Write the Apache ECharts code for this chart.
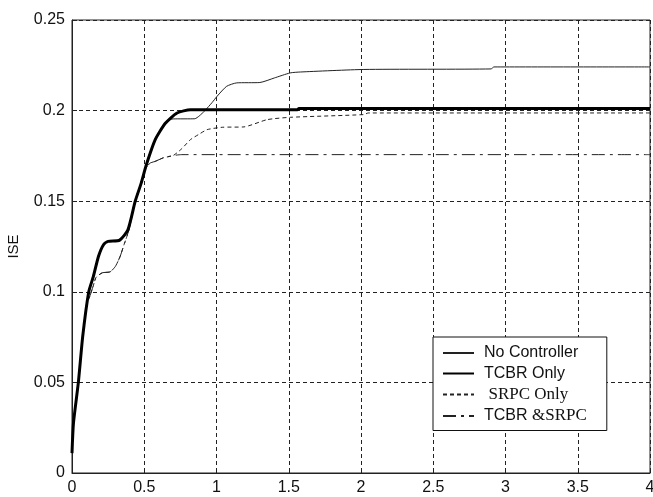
<!DOCTYPE html>
<html>
<head>
<meta charset="utf-8">
<script src="https://cdn.jsdelivr.net/npm/echarts@6/dist/echarts.min.js"></script>
<style>
  html, body { margin: 0; padding: 0; background: #fff; }
  #main { width: 653px; height: 497px; }
</style>
</head>
<body>
<div id="main"></div>
<script>
// time (s) and ISE values
var tNone = [0, 0.01, 0.044, 0.074, 0.116, 0.148, 0.183, 0.218, 0.25, 0.33, 0.387, 0.4375, 0.479, 0.514, 0.576, 0.62, 0.66, 0.70, 0.85, 0.88, 0.92, 0.97, 1.005, 1.07, 1.14, 1.3, 1.4, 1.51, 1.58, 2.02, 2.9, 2.92, 4];
var vNone = [0.011, 0.0274, 0.05, 0.0753, 0.1, 0.1085, 0.1195, 0.126, 0.1278, 0.1285, 0.1342, 0.15, 0.160, 0.170, 0.184, 0.190, 0.1945, 0.1954, 0.1955, 0.197, 0.2, 0.2045, 0.208, 0.2134, 0.2153, 0.2155, 0.218, 0.2208, 0.2213, 0.2227, 0.2230, 0.2241, 0.2241];

var tTcbr = [0, 0.01, 0.044, 0.074, 0.116, 0.148, 0.183, 0.218, 0.25, 0.33, 0.387, 0.4375, 0.479, 0.514, 0.576, 0.646, 0.727, 0.82, 1.56, 1.57, 4];
var vTcbr = [0.011, 0.0274, 0.05, 0.0753, 0.1, 0.1085, 0.1195, 0.126, 0.1278, 0.1285, 0.1342, 0.15, 0.160, 0.170, 0.184, 0.193, 0.1987, 0.2005, 0.2005, 0.2011, 0.2011];

var tSrpc = [0, 0.01, 0.044, 0.074, 0.10, 0.125, 0.146, 0.167, 0.21, 0.264, 0.30, 0.333, 0.36, 0.38, 0.40, 0.4375, 0.479, 0.51, 0.54, 0.576, 0.634, 0.70, 0.76, 0.82, 0.88, 0.935, 1.04, 1.19, 1.35, 1.51, 2.02, 2.05, 4];
var vSrpc = [0.011, 0.0274, 0.05, 0.0753, 0.092, 0.098, 0.103, 0.108, 0.1105, 0.111, 0.114, 0.1195, 0.126, 0.1306, 0.136, 0.15, 0.160, 0.168, 0.171, 0.172, 0.174, 0.1752, 0.179, 0.184, 0.187, 0.1895, 0.1908, 0.191, 0.195, 0.1963, 0.1978, 0.1987, 0.1987];

var tBoth = [0, 0.01, 0.044, 0.074, 0.10, 0.125, 0.146, 0.167, 0.21, 0.264, 0.30, 0.333, 0.36, 0.38, 0.40, 0.4375, 0.479, 0.51, 0.54, 0.576, 0.634, 0.70, 0.76, 4];
var vBoth = [0.011, 0.0274, 0.05, 0.0753, 0.092, 0.098, 0.103, 0.108, 0.1105, 0.111, 0.114, 0.1195, 0.126, 0.1306, 0.136, 0.15, 0.160, 0.168, 0.171, 0.172, 0.174, 0.1752, 0.1757, 0.1757];

var seriesNames = ['No Controller', 'TCBR Only', 'SRPC Only', 'TCBR &SRPC'];

function pairs(t, v) {
  return t.map(function (x, i) { return [x, v[i]]; });
}

var chart = echarts.init(document.getElementById('main'));

var axisText = { color: '#111', fontFamily: 'Liberation Sans', fontSize: 16 };

var option = {
  animation: false,
  backgroundColor: '#fff',
  grid: {
    left: 72, right: 3, top: 20, bottom: 24,
    outerBoundsMode: 'none',
    show: true, borderColor: '#222', borderWidth: 1
  },
  xAxis: {
    type: 'value',
    min: 0, max: 4, interval: 0.5,
    axisLine: { lineStyle: { color: '#222', width: 1 } },
    axisTick: { inside: true, length: 5, lineStyle: { color: '#222' } },
    axisLabel: Object.assign({ margin: 7 }, axisText),
    splitLine: { lineStyle: { color: '#222', type: [4, 3], width: 1 } }
  },
  yAxis: {
    type: 'value',
    min: 0, max: 0.25, interval: 0.05,
    name: 'ISE',
    nameLocation: 'middle',
    nameGap: 51,
    nameTextStyle: { color: '#111', fontFamily: 'Liberation Sans', fontSize: 15 },
    axisLine: { show: true, lineStyle: { color: '#222', width: 1 } },
    axisTick: { inside: true, length: 5, lineStyle: { color: '#222' } },
    axisLabel: Object.assign({ margin: 7 }, axisText),
    splitLine: { lineStyle: { color: '#222', type: [4, 3], width: 1 } }
  },
  legend: {
    orient: 'vertical',
    left: 433, top: 337,
    padding: [8, 20, 6, 9],
    itemWidth: 31, itemHeight: 14, itemGap: 4.5,
    backgroundColor: '#fff',
    borderColor: '#111', borderWidth: 1,
    itemStyle: { opacity: 0, color: 'transparent', borderWidth: 0 },
    data: seriesNames,
    textStyle: {
      color: '#111', fontFamily: 'Liberation Sans', fontSize: 16, lineHeight: 16,
      padding: [0, 0, 0, 5],
      rich: { s: { fontFamily: 'Liberation Serif', fontSize: 17, lineHeight: 16, color: '#111' } }
    },
    formatter: function (name) {
      if (name === 'SRPC Only') return ' {s|SRPC Only}';
      if (name === 'TCBR &SRPC') return 'TCBR {s|&SRPC}';
      return name;
    }
  },
  series: [
    {
      name: seriesNames[0], type: 'line', showSymbol: false, symbol: 'none', smooth: 0.2, z: 3,
      lineStyle: { color: '#222', width: 1 }, itemStyle: { color: '#222' },
      data: pairs(tNone, vNone)
    },
    {
      name: seriesNames[1], type: 'line', showSymbol: false, symbol: 'none', smooth: 0.2, z: 5,
      lineStyle: { color: '#000', width: 3 }, itemStyle: { color: '#000' },
      data: pairs(tTcbr, vTcbr)
    },
    {
      name: seriesNames[2], type: 'line', showSymbol: false, symbol: 'none', smooth: 0.2, z: 4,
      lineStyle: { color: '#222', width: 1, type: [4, 3] }, itemStyle: { color: '#222' },
      data: pairs(tSrpc, vSrpc)
    },
    {
      name: seriesNames[3], type: 'line', showSymbol: false, symbol: 'none', smooth: 0.2, z: 4,
      lineStyle: { color: '#222', width: 1, type: [13, 5, 3, 5] }, itemStyle: { color: '#222' },
      data: pairs(tBoth, vBoth)
    }
  ]
};

chart.setOption(option);
</script>
</body>
</html>
